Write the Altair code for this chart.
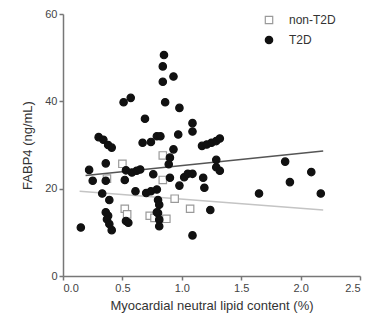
import altair as alt
import pandas as pd

t2d_x = [0.15, 0.22, 0.25, 0.30, 0.34, 0.38, 0.41, 0.36, 0.36, 0.33, 0.39, 0.36, 0.38, 0.37, 0.39, 0.41,
         0.51, 0.57, 0.53, 0.52, 0.58, 0.62, 0.65, 0.61, 0.53, 0.55, 0.69, 0.67, 0.74, 0.79, 0.82,
         0.70, 0.74, 0.79, 0.76, 0.80, 0.81, 0.80, 0.81, 0.81, 0.79, 0.85, 0.84, 0.84, 0.86, 0.93,
         0.98, 0.97, 0.93, 0.90, 0.89, 0.90, 0.98, 1.02, 1.05, 1.09, 1.09, 1.09, 1.09, 1.17, 1.21,
         1.25, 1.29, 1.32, 1.18, 1.19, 1.29, 1.29, 1.32, 1.24, 1.65, 1.87, 1.91, 2.09, 2.17]
t2d_y = [11.1, 24.3, 21.8, 31.8, 31.2, 30.0, 29.4, 25.8, 21.8, 18.9, 17.4, 14.6, 13.8, 13.0, 11.9, 10.5,
         39.8, 40.8, 24.2, 22.0, 23.7, 24.1, 24.4, 19.4, 12.6, 12.2, 36.0, 30.5, 30.7, 32.0, 32.0,
         19.0, 19.4, 19.8, 23.3, 17.4, 16.3, 14.4, 12.9, 11.4, 14.6, 50.6, 48.0, 44.5, 39.8, 45.7,
         38.5, 32.4, 29.0, 27.1, 25.6, 22.5, 20.7, 22.6, 23.4, 23.4, 35.0, 33.1, 9.3, 29.8, 30.1,
         30.5, 30.9, 31.5, 22.5, 20.2, 26.6, 24.9, 24.1, 15.1, 18.9, 26.2, 21.5, 23.8, 18.9]

non_x = [0.50, 0.37, 0.52, 0.54, 0.84, 0.73, 0.77, 0.87, 1.07, 0.94, 0.84]
non_y = [25.7, 22.3, 15.4, 14.1, 27.6, 13.8, 13.3, 13.1, 15.4, 17.7, 22.0]

fit_t2d_x = [0.19, 2.19]
fit_t2d_y = [23.0, 28.6]
fit_non_x = [0.14, 2.19]
fit_non_y = [19.4, 15.1]

groups = ["non-T2D", "T2D"]

pts = pd.concat([
    pd.DataFrame({"x": non_x, "y": non_y, "g": groups[0]}),
    pd.DataFrame({"x": t2d_x, "y": t2d_y, "g": groups[1]}),
])
fits = pd.concat([
    pd.DataFrame({"x": fit_non_x, "y": fit_non_y, "fg": groups[0]}),
    pd.DataFrame({"x": fit_t2d_x, "y": fit_t2d_y, "fg": groups[1]}),
])

xs = alt.Scale(domain=[0, 2.5], nice=False)
ys = alt.Scale(domain=[0, 60], nice=False)
xax = alt.Axis(values=[0, 0.5, 1.0, 1.5, 2.0, 2.5], format=".1f", title="Myocardial neutral lipid content (%)")
yax = alt.Axis(values=[0, 20, 40, 60], title="FABP4 (ng/mL)")

leg = alt.Legend(title=None, orient="none", legendX=200, legendY=0,
                 labelFontSize=12, labelColor="#333", symbolSize=55,
                 rowPadding=6, labelOffset=14, symbolStrokeWidth=1.2)

lines = alt.Chart(fits).mark_line(strokeWidth=1.5).encode(
    x=alt.X("x:Q", scale=xs, axis=xax),
    y=alt.Y("y:Q", scale=ys, axis=yax),
    stroke=alt.Stroke("fg:N", scale=alt.Scale(domain=groups, range=["#c4c4c4", "#555555"]), legend=None),
    detail="fg:N",
)

points = alt.Chart(pts).mark_point(size=55, strokeWidth=1.2, opacity=1).encode(
    x=alt.X("x:Q", scale=xs),
    y=alt.Y("y:Q", scale=ys),
    shape=alt.Shape("g:N", scale=alt.Scale(domain=groups, range=["square", "circle"]), legend=leg),
    stroke=alt.Stroke("g:N", scale=alt.Scale(domain=groups, range=["#9a9a9a", "#111111"]), legend=leg),
    fill=alt.Fill("g:N", scale=alt.Scale(domain=groups, range=["#ffffff", "#111111"]), legend=leg),
)

chart = alt.layer(lines, points).resolve_scale(
    stroke="independent", shape="independent", fill="independent"
).properties(
    width=297, height=262,
    autosize=alt.AutoSizeParams(type="none"),
    padding={"left": 55, "top": 6, "right": 6, "bottom": 45},
).configure_view(stroke=None).configure_axis(
    grid=False, domainColor="#777", tickColor="#777", tickSize=4, domainWidth=1.5, tickWidth=1.5,
    labelFont="Liberation Sans", labelFontSize=11, labelColor="#444",
    titleFont="Liberation Sans", titleFontSize=13, titleFontWeight="normal", titleColor="#333",
).configure_axisX(titlePadding=6).configure_axisY(titlePadding=10).configure_legend(
    labelFont="Liberation Sans"
)

chart.save("out.html", embed_options={"renderer": "svg", "actions": False})
